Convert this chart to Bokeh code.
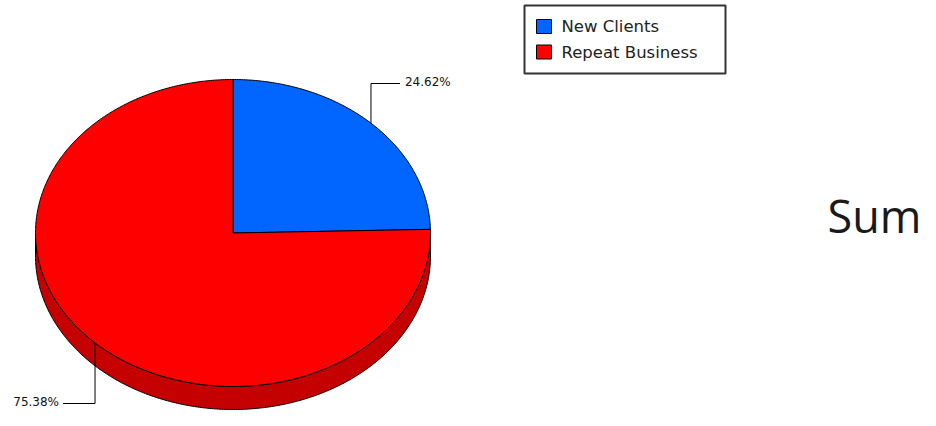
import numpy as np
from bokeh.plotting import figure
from bokeh.models import Range1d, ColumnDataSource
from bokeh.core.properties import value
from bokeh.embed import file_html
from bokeh.resources import INLINE

# ---- data ----
categories = ["New Clients", "Repeat Business"]
values = [24.62, 75.38]
side_text = "Sum"

# ---- styles ----
top_colors = ["#0066FF", "#FF0000"]
side_colors = ["#0044B8", "#C40000"]

# ---- layout (screen-like coordinates) ----
CX, CY, RX, RY, DEPTH = 232.5, 232.5, 197.5, 153.5, 23.0

p = figure(width=920, height=410, x_range=Range1d(0, 920), y_range=Range1d(410, 0),
           output_backend="svg", toolbar_location=None, min_border=0,
           x_axis_type=None, y_axis_type=None)
p.grid.visible = False
p.outline_line_color = None
p.background_fill_color = "white"
p.border_fill_color = "white"


def ex(t):
    return CX + RX * np.cos(np.radians(t))


def ey(t, dy=0.0):
    return CY - RY * np.sin(np.radians(t)) + dy


total = float(sum(values))
starts, ends = [], []
a = 90.0
for v in values:
    starts.append(a)
    a = a - 360.0 * v / total
    ends.append(a)

# ---- side walls (front half: sin < 0) ----
side_xs, side_ys, side_fc = [], [], []
for i, (a0, a1) in enumerate(zip(starts, ends)):
    for k in range(-2, 2):
        lo = max(a1, -180.0 + 360.0 * k)
        hi = min(a0, 0.0 + 360.0 * k)
        if hi - lo <= 0:
            continue
        t = np.linspace(hi, lo, max(int((hi - lo) * 2), 2))
        xs = list(ex(t)) + list(ex(t[::-1]))
        ys = list(ey(t)) + list(ey(t[::-1], DEPTH))
        side_xs.append(xs)
        side_ys.append(ys)
        side_fc.append(side_colors[i])

p.patches(xs="xs", ys="ys", fill_color="fc", line_color="black", line_width=1,
          source=ColumnDataSource(dict(xs=side_xs, ys=side_ys, fc=side_fc)))

# ---- top slices ----
top_xs, top_ys = [], []
for a0, a1 in zip(starts, ends):
    t = np.linspace(a0, a1, max(int((a0 - a1) * 2), 2))
    top_xs.append([CX] + list(ex(t)))
    top_ys.append([CY] + list(ey(t)))
p.patches(xs="xs", ys="ys", fill_color="fc", line_color="black", line_width=1,
          source=ColumnDataSource(dict(xs=top_xs, ys=top_ys, fc=top_colors)))

# ---- leader lines and labels ----
lx, ly, tx, ty, tt, ta = [], [], [], [], [], []
for v, a0, a1 in zip(values, starts, ends):
    m = (a0 + a1) / 2.0
    px, py = float(ex(m)), float(ey(m))
    pct = 100.0 * v / total
    if np.sin(np.radians(m)) >= 0:
        yy = 83.0
        lx.append([px, px, px + 29])
        ly.append([py, yy, yy])
        tx.append(px + 34); ty.append(yy - 2); ta.append("left")
    else:
        yy = 403.0
        lx.append([px, px, px - 32])
        ly.append([py, yy, yy])
        tx.append(px - 36); ty.append(yy - 2); ta.append("right")
    tt.append(f"{pct:.2f}%")

p.multi_line(xs=lx, ys=ly, line_color="black", line_width=1)
p.text(x="x", y="y", text="t", text_align="a", text_baseline="middle",
       text_font=value("DejaVu Sans"), text_font_size="12px", text_color="#111111",
       source=ColumnDataSource(dict(x=tx, y=ty, t=tt, a=ta)))

# ---- legend ----
p.quad(left=[524], right=[725], top=[5], bottom=[73], fill_color=None,
       line_color="#333333", line_width=2)
rows_y = [26.0 + 25.5 * i for i in range(len(categories))]
p.quad(left=[536] * len(categories), right=[551] * len(categories),
       top=[y - 7 for y in rows_y], bottom=[y + 7 for y in rows_y],
       fill_color=top_colors, line_color="black", line_width=1)
p.text(x=[561] * len(categories), y=rows_y, text=categories, text_baseline="middle",
       text_font=value("DejaVu Sans"), text_font_size="16.5px", text_color="#222222")

# ---- side text ----
p.text(x=[827], y=[215], text=[side_text], text_baseline="alphabetic",
       text_font=value("Open Sans"), text_font_size="45px", text_color="#1a1a1a")

open("out.html", "w").write(file_html(p, INLINE))
